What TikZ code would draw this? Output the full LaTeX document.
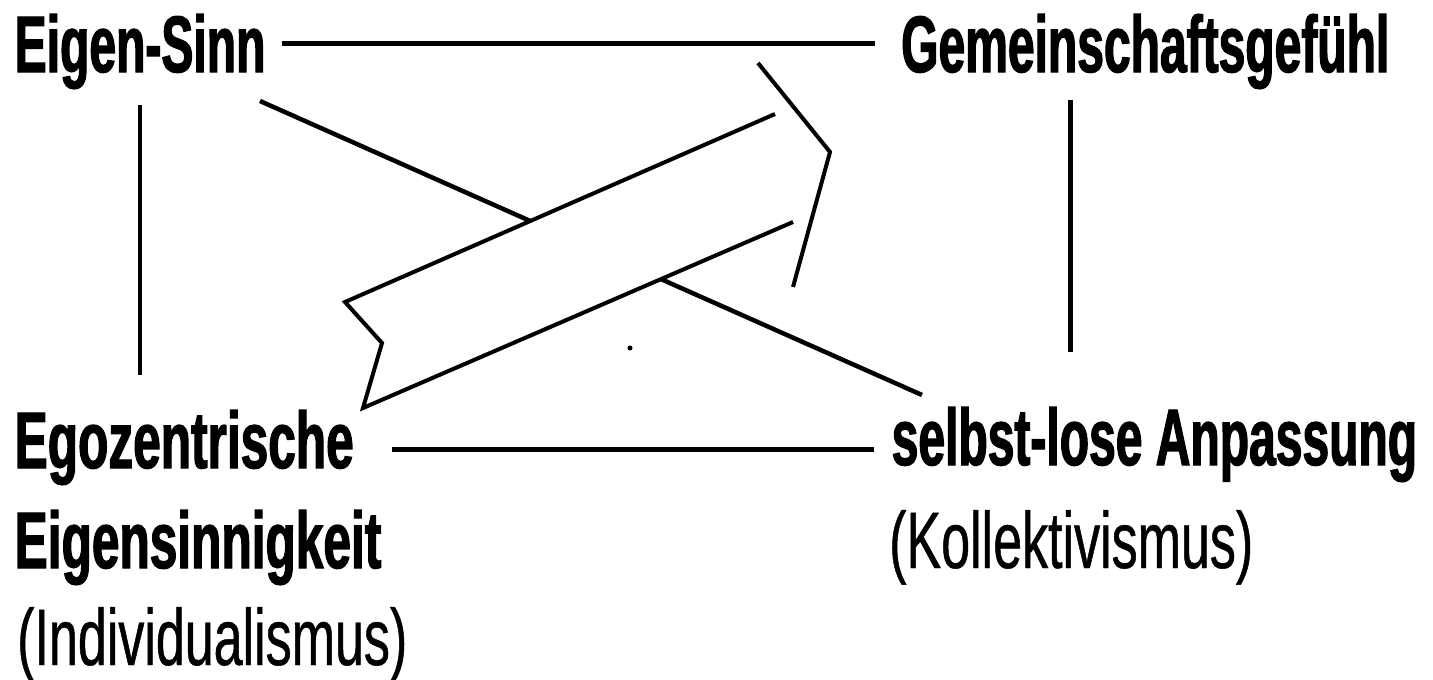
\documentclass[tikz,border=0pt]{standalone}
\usepackage{fontspec}
\setmainfont{Liberation Sans}
\newfontfamily\bcond[FakeStretch=0.60,FakeBold=1.5]{Liberation Sans Bold}
\newfontfamily\bcondw[FakeStretch=0.62,FakeBold=1.5]{Liberation Sans Bold}
\newfontfamily\rcond[FakeStretch=0.65,FakeBold=0.6]{Liberation Sans}
\begin{document}
\begin{tikzpicture}[x=1pt,y=-1pt,
  boldlabel/.style={anchor=base west, inner sep=0pt, font=\bcond\fontsize{80}{96}\selectfont},
  boldwlabel/.style={anchor=base west, inner sep=0pt, font=\bcondw\fontsize{80}{96}\selectfont},
  plainlabel/.style={anchor=base west, inner sep=0pt, font=\rcond\fontsize{80}{96}\selectfont},
  link/.style={line width=5pt},
  thinlink/.style={line width=3.5pt},
  ribbonline/.style={line width=4pt, line join=miter, line cap=butt}]
\useasboundingbox (0,0) rectangle (1433,680);
\fill[white] (0,0) rectangle (1433,680);

% labels
\node[boldlabel]  (es)   at (14.5,72)  {Eigen-Sinn};
\node[boldlabel]  (gf)   at (901,72)   {Gemeinschaftsgefühl};
\node[boldwlabel] (ego)  at (14.5,468) {Egozentrische};
\node[boldwlabel] (eig)  at (14.5,568) {Eigensinnigkeit};
\node[plainlabel] (ind)  at (17,665)   {(Individualismus)};
\node[boldlabel]  (sa)   at (891.5,465) {selbst-lose Anpassung};
\node[plainlabel] (kol)  at (889,568)  {(Kollektivismus)};

% connectors
\draw[link] ([shift={(16,-29)}]es.base east) -- ([shift={(-26,-29)}]gf.base west);
\draw[link] (ego.base west) ++(377.5,-19) -- ([shift={(-18,-16)}]sa.base west);
\draw[thinlink] ([shift={(125.5,33)}]es.base west) -- ([shift={(125.5,-93)}]ego.base west);
\draw[link] ([shift={(169,28)}]gf.base west) -- ([shift={(178.5,-113)}]sa.base west);
\draw[line width=4.5pt] ([shift={(245.5,29)}]es.base west) -- ([shift={(30.5,-70)}]sa.base west);

% ribbon arrow (drawn over the diagonal)
\fill[white] (345,302) -- (775,114) -- (758,63) -- (830,152) -- (793,287)
  -- (793,222) -- (363,408) -- (382,343) -- cycle;
\draw[ribbonline] (775,114) -- (345,302) -- (382,343) -- (363,408) -- (793,222);
\draw[ribbonline] (758,63) -- (830,152) -- (793,287);

% small speck
\fill (630,348) circle (2.5);
\end{tikzpicture}
\end{document}
